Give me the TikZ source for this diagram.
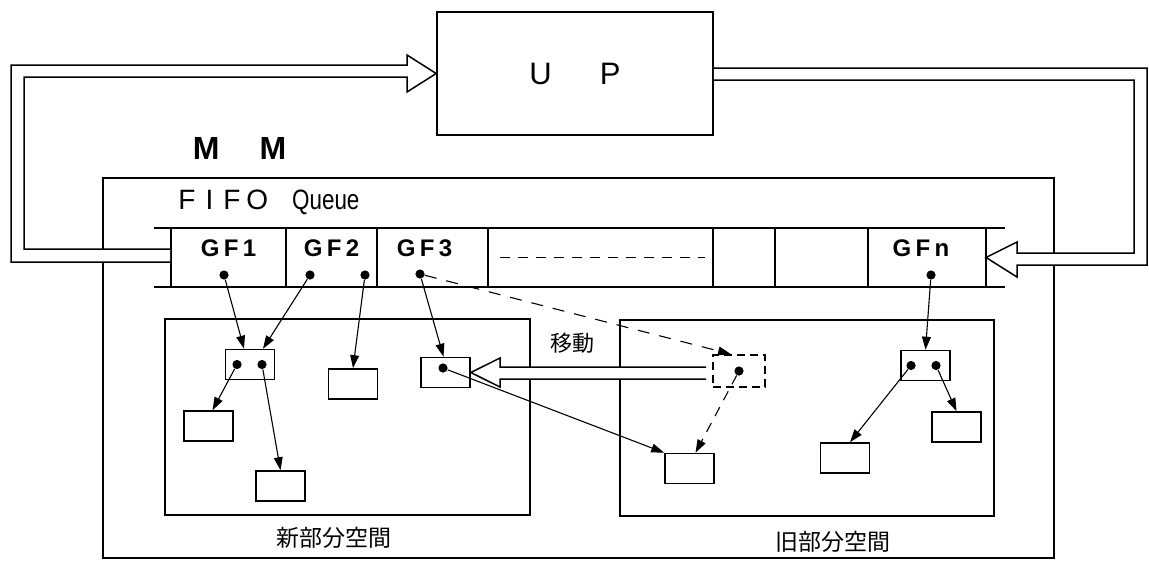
\documentclass[tikz,border=0pt]{standalone}
\usepackage{graphicx}
\usepackage{fontspec}
\setmainfont{Liberation Sans}
\newfontfamily\jpfont{Noto Sans CJK JP}
\usetikzlibrary{positioning,arrows.meta}
\newcommand{\ls}{\hspace{2.2pt}}

\begin{document}
\begin{tikzpicture}[x=0.5pt, y=-0.5pt,
    frame/.style={draw, line width=0.85pt, inner sep=0pt},
    cell/.style={frame, outer sep=0pt, minimum height=29.5pt, anchor=west},
    obj/.style={draw, line width=0.8pt, minimum width=24.5pt, minimum height=15pt, inner sep=0pt},
    dot/.style={circle, fill, inner sep=0pt, minimum size=4.6pt},
    gflbl/.style={font=\bfseries\fontsize{12pt}{14pt}\selectfont, inner sep=0pt},
    jlbl/.style={font=\jpfont\fontsize{11.5pt}{14pt}\selectfont, inner sep=0pt},
    ptr/.style={-{Triangle[length=6.5pt,width=4.4pt]}, line width=0.55pt},
    hollow/.style={draw, fill=white, line width=0.75pt}]
  \fill[white] (0,0) rectangle (1149,563);
  \useasboundingbox (0,0) rectangle (1149,563);

  \node[frame, minimum width=138pt, minimum height=61.5pt,
        font=\fontsize{15.5pt}{18pt}\selectfont] (up) at (575,73.5) {U\hspace{24pt}P};
  \node[font=\bfseries\fontsize{16pt}{19pt}\selectfont, inner sep=0pt] (mmlbl) at (239.5,148) {M\hspace{20pt}M};
  \node[frame, minimum width=475.5pt, minimum height=190pt] (mm) at (578.5,368) {};
  \node[anchor=west, inner sep=0pt, font=\fontsize{14pt}{17pt}\selectfont] (fifo) at (178,202)
    {F\hspace{5pt}I\hspace{5pt}F\hspace{3pt}O\hspace{12pt}\scalebox{0.8}[1]{Queue}};

  \node[cell, minimum width=57.5pt] (gf1) at (171,257.5) {};
  \node[cell, minimum width=45.5pt, right=0pt of gf1] (gf2) {};
  \node[cell, minimum width=55.5pt, right=0pt of gf2] (gf3) {};
  \node[cell, minimum width=112.5pt, right=0pt of gf3] (gfd) {};
  \node[cell, minimum width=31pt, right=0pt of gfd] (gfe) {};
  \node[cell, minimum width=46.5pt, right=0pt of gfe] (gff) {};
  \node[cell, minimum width=59pt, right=0pt of gff] (gfn) {};
  \draw[line width=0.85pt] ([xshift=-8.5pt]gf1.north west) -- (gf1.north west)
    ([xshift=-8.5pt]gf1.south west) -- (gf1.south west);
  \draw[line width=0.85pt] (gfn.north east) -- ([xshift=9.5pt]gfn.north east)
    (gfn.south east) -- ([xshift=9.5pt]gfn.south east);
  \draw[line width=0.7pt, dash pattern=on 5pt off 4pt] ([xshift=6pt]gfd.west) -- ([xshift=-4pt]gfd.east);

  \node[gflbl] (t1) at ([yshift=4.75pt]gf1.center) {G\ls F\ls 1};
  \node[gflbl] (t2) at ([yshift=4.75pt]gf2.center) {G\ls F\ls 2};
  \node[gflbl] (t3) at ([xshift=-4pt,yshift=4.75pt]gf3.center) {G\ls F\ls 3};
  \node[gflbl] (tn) at ([xshift=-3pt,yshift=4.75pt]gfn.center) {G\ls F\ls n};
  \node[dot] (p1) at (224,275) {};
  \node[dot] (p2a) at (310,275) {};
  \node[dot] (p2b) at (365,275) {};
  \node[dot] (p3) at (420,274) {};
  \node[dot] (pn) at (931,275) {};

  \node[frame, minimum width=182.5pt, minimum height=98pt] (newsp) at (347.5,417) {};
  \node[frame, minimum width=187pt, minimum height=98pt] (oldsp) at (807,418) {};
  \node[jlbl, below=5.5pt of newsp, xshift=-7pt] (newlbl) {新部分空間};
  \node[jlbl, below=7pt of oldsp, xshift=13pt] (oldlbl) {旧部分空間};
  \node[jlbl, font=\jpfont\fontsize{11pt}{13pt}\selectfont] (move) at (572,343) {移動};

  \node[obj] (na) at (250,364.5) {};
  \node[obj] (nb) at (208.5,426) {};
  \node[obj] (nc) at (280.5,486) {};
  \node[obj] (nd) at (353,384) {};
  \node[obj] (ne) at (445.5,372.5) {};
  \node[obj, dash pattern=on 4pt off 2.5pt, minimum width=26pt, minimum height=16pt] (of) at (739,371) {};
  \node[obj] (og) at (689.5,468.5) {};
  \node[obj] (oh) at (925.5,365.5) {};
  \node[obj] (oi) at (845,458) {};
  \node[obj] (oj) at (956.5,427) {};
  \node[dot] (pa1) at ([xshift=-6.5pt]na.center) {};
  \node[dot] (pa2) at ([xshift=6pt]na.center) {};
  \node[dot] (pe) at ([xshift=-1.25pt,yshift=2.25pt]ne.center) {};
  \node[dot] (pf) at (of.center) {};
  \node[dot] (ph1) at ([xshift=-7.25pt]oh.center) {};
  \node[dot] (ph2) at ([xshift=5.25pt]oh.center) {};

  \draw[hollow] ([xshift=-0.4pt,yshift=4.25pt]gf1.west) -- (24,249) -- (24,77) -- (407,77)
    -- (407,92) -- (up.west) -- (407,55) -- (407,65) -- (11,65) -- (11,262)
    -- ([xshift=-0.4pt,yshift=-2.25pt]gf1.west);
  \draw[hollow] ([yshift=2.75pt]up.east) -- (1147,68) -- (1147,265) -- (1017,265)
    -- (1017,277) -- (gfn.east) -- (1017,242) -- (1017,253) -- (1134,253) -- (1134,80)
    -- ([yshift=-3.25pt]up.east);
  \draw[hollow] ([xshift=-3pt,yshift=2pt]of.west) -- (500,367) -- (500,358) -- (ne.east)
    -- (500,387) -- (500,379) -- ([xshift=-3pt,yshift=-4pt]of.west);

  \draw[ptr] (p1) -- ([xshift=-3pt]na.north);
  \draw[ptr] (p2a) -- ([xshift=6.5pt]na.north);
  \draw[ptr] (p2b) -- (nd.north);
  \draw[ptr] (p3) -- ([xshift=-1pt]ne.north);
  \draw[ptr, dash pattern=on 6pt off 5pt] (p3) -- ([xshift=-4pt]of.north);
  \draw[ptr] (pn) -- (oh.north);
  \draw[ptr] (pa1) -- ([xshift=2pt]nb.north);
  \draw[ptr] (pa2) -- (nc.north);
  \draw[ptr] (pe) -- (og.north west);
  \draw[ptr, dash pattern=on 5pt off 4pt] (pf) -- ([xshift=3pt]og.north);
  \draw[ptr] (ph1) -- ([xshift=2.5pt]oi.north);
  \draw[ptr] (ph2) -- (oj.north);
\end{tikzpicture}
\end{document}
